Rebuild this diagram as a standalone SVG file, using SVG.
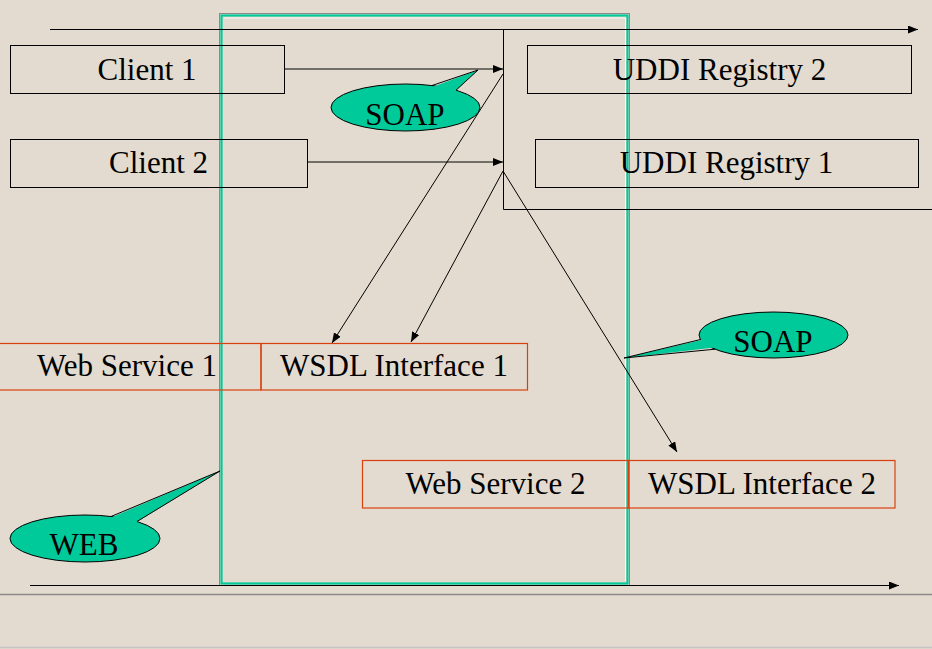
<svg xmlns="http://www.w3.org/2000/svg" width="932" height="649" viewBox="0 0 932 649">
<style>
text{font-family:"Liberation Serif","Times New Roman",serif;font-size:31px;fill:#000;text-anchor:middle}
.box{fill:none;stroke:#000;stroke-width:1}
.red{fill:none;stroke:#D9400F;stroke-width:1.2}
.ln{fill:none;stroke:#000;stroke-width:1}
.call{fill:#00C99A;stroke:#000;stroke-width:1}
.tail{fill:#00C99A;stroke:none}
.edge{fill:none;stroke:#000;stroke-width:1;stroke-linejoin:miter}
</style>
<defs>
<marker id="ah" viewBox="0 0 10 8" refX="10" refY="4" markerWidth="10" markerHeight="8" markerUnits="userSpaceOnUse" orient="auto">
<path d="M0,0 L10,4 L0,8 Z" fill="#000"/>
</marker>
</defs>
<rect x="0" y="0" width="932" height="649" fill="#E3DBCF"/>
<line x1="0" y1="594.5" x2="932" y2="594.5" stroke="#8a8a8a" stroke-width="1.5"/>
<line x1="0" y1="647.5" x2="932" y2="647.5" stroke="#c4c4c4" stroke-width="1.5"/>

<g id="frame">
<rect x="219.5" y="13.5" width="410" height="572" fill="none" stroke="#8a8a8a" stroke-width="1"/>
<rect x="221.5" y="15.5" width="406" height="568" fill="none" stroke="#00C99A" stroke-width="2.2"/>
<path d="M224,18 H625.5 V581" fill="none" stroke="#ffffff" stroke-width="0.8"/>
</g>

<g id="connectors">
<line class="ln" x1="50" y1="29.5" x2="918" y2="29.5" marker-end="url(#ah)"/>
<path class="ln" d="M932,209.5 H503.5 V29.5"/>
<line class="ln" x1="30" y1="585.5" x2="899" y2="585.5" marker-end="url(#ah)"/>
<line class="ln" x1="284" y1="69" x2="503" y2="69" marker-end="url(#ah)"/>
<line class="ln" x1="307" y1="162" x2="503" y2="162" marker-end="url(#ah)"/>
<line class="ln" x1="503" y1="74" x2="332" y2="343" marker-end="url(#ah)"/>
<line class="ln" x1="503" y1="171" x2="411" y2="342" marker-end="url(#ah)"/>
<line class="ln" x1="503" y1="171" x2="677" y2="452" marker-end="url(#ah)"/>
</g>

<g id="client1">
<rect class="box" x="10.5" y="45.5" width="274" height="48"/>
<text x="147" y="80">Client 1</text>
</g>
<g id="client2">
<rect class="box" x="10.5" y="139.5" width="297" height="48"/>
<text x="158.5" y="173">Client 2</text>
</g>
<g id="uddi2">
<rect class="box" x="527.5" y="45.5" width="384" height="48"/>
<text x="719.5" y="80">UDDI Registry 2</text>
</g>
<g id="uddi1">
<rect class="box" x="535.5" y="139.5" width="383" height="48"/>
<text x="726.5" y="173">UDDI Registry 1</text>
</g>
<g id="ws1">
<rect class="red" x="-8" y="343.5" width="269" height="46.5"/>
<text x="127" y="376">Web Service 1</text>
</g>
<g id="wsdl1">
<rect class="red" x="261" y="343.5" width="266.5" height="46.5"/>
<text x="394" y="376">WSDL Interface 1</text>
</g>
<g id="ws2">
<rect class="red" x="362.5" y="460.5" width="266" height="47.5"/>
<text x="495.5" y="494">Web Service 2</text>
</g>
<g id="wsdl2">
<rect class="red" x="628.5" y="460.5" width="266.5" height="47.5"/>
<text x="762" y="494">WSDL Interface 2</text>
</g>

<g id="soap1">
<ellipse class="call" cx="405.5" cy="107.5" rx="74.5" ry="23.5"/>
<polygon class="tail" points="431,87.5 478,70 455,91.5 444,96"/>
<polyline class="edge" points="432,85.5 478,70 456,90.2"/>
<text x="405" y="125">SOAP</text>
</g>
<g id="soap2">
<ellipse class="call" cx="773.5" cy="335" rx="74.5" ry="23"/>
<polygon class="tail" points="701.5,340 624,358 714.5,347.5 720,342"/>
<polyline class="edge" points="700.5,339.5 624,358 715,349.2"/>
<text x="773" y="352">SOAP</text>
</g>
<g id="web">
<ellipse class="call" cx="85" cy="538.5" rx="75" ry="23.5"/>
<polygon class="tail" points="110,518 220,471 136,522.5 124,525"/>
<polyline class="edge" points="111,516.5 220,471 137,521.5"/>
<text x="84" y="555">WEB</text>
</g>
</svg>
